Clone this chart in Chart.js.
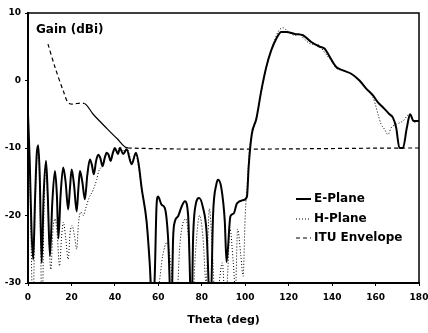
<!DOCTYPE html>
<html>
<head>
<meta charset="utf-8">
<script src="https://cdn.jsdelivr.net/npm/chart.js@4.4.1/dist/chart.umd.min.js"></script>
<style>
  html, body { margin: 0; padding: 0; background: #fff; }
  #wrap { width: 428px; height: 333px; }
</style>
</head>
<body>
<div id="wrap"><canvas id="gainChart" width="428" height="333"></canvas></div>
<script>
// E-Plane (solid)
const eTheta = [0, 0.8, 1.6, 2.4, 3.2, 4.0, 4.7, 5.4, 6.3, 7.2, 8.3, 9.1, 10.1, 11.2, 12.4, 13.3, 14.0, 15.0, 16.2, 17.3,
  18.5, 19.3, 20.1, 21.2, 22.4, 23.2, 23.9, 25.0, 26.2, 27.3, 28.5, 29.4, 30.3, 31.3, 32.3, 33.3, 34.3, 35.3, 36.2, 37.1,
  38.0, 39.0, 40.0, 41.4, 42.3, 43.8, 45.4, 47.7, 49.7, 51.0, 52.3, 54.6, 56.0, 57.5, 58.4, 59.2, 59.9, 61.5, 63.0, 64.5,
  66.0, 66.8, 67.6, 69.1, 70.7, 72.2, 73.7, 75.3, 76.0, 77.2, 78.8, 80.6, 82.2, 84.0, 85.2, 86.7, 87.5, 89.0, 90.6, 91.4,
  93.2, 94.7, 96.2, 99.3, 100.8, 101.6, 103.0, 105.1, 107.4, 109.7, 112.0, 114.3, 116.6, 118.9, 122.8, 126.6, 130.4, 134.3,
  136.6, 138.9, 141.9, 145.0, 148.8, 152.6, 155.7, 158.8, 161.0, 164.1, 166.4, 168.0, 169.5, 171.0, 172.6, 174.4, 175.9,
  177.5, 180];
const eGain = [-5, -12, -22, -26.5, -18, -11, -9.6, -14, -27, -17, -11.9, -17, -26, -18, -13.4, -17, -23.4, -17, -12.9, -15,
  -19.1, -16, -13.2, -15.5, -19.4, -16, -13.4, -15, -17.6, -14, -11.7, -12.5, -13.9, -12, -11, -11.5, -12.7, -11.5, -10.7, -11,
  -11.9, -10.8, -10, -10.9, -10, -10.9, -10.2, -12.4, -10.7, -12.5, -15.9, -20.9, -26.9, -35, -28.4, -18.4, -17.2, -18.4, -18.9, -23.4,
  -35, -23.4, -20.9, -20.1, -18.7, -17.9, -19.9, -35, -23.4, -18.4, -17.4, -18.9, -22.4, -35, -19.9, -15.4, -14.7, -15.9, -20.9, -26.9,
  -20.1, -19.7, -18.2, -17.7, -17.2, -12.7, -8, -5.7, -1.5, 2, 4.5, 6.2, 7.2, 7.2, 6.9, 6.7, 5.7, 5,
  4.7, 3.5, 2, 1.5, 1, 0, -1.2, -2.2, -3.2, -4.2, -5, -5.5, -7, -10, -10, -7, -5,
  -6, -6];

// H-Plane (dotted)
const hTheta = [0, 0.8, 1.5, 2.2, 3.2, 4.0, 4.7, 5.5, 6.5, 7.4, 8.3, 9.3, 10.5, 11.5, 12.5, 13.5, 14.5, 15.5, 16.3, 17.4,
  18.5, 19.4, 20.3, 21.4, 22.4, 23.3, 24.3, 25.5, 26.5, 28.0, 30.0, 31.6, 32.5, 34.3, 35.3, 36.2, 37.1, 38.0, 39.0, 40.0,
  41.4, 42.3, 43.8, 45.4, 47.7, 49.7, 51.0, 52.3, 54.6, 56.0, 57.0, 60.0, 62.0, 64.0, 66.0, 68.0, 70.0, 72.7, 74.0, 75.5,
  77.0, 79.0, 80.5, 82.0, 83.5, 85.0, 86.5, 88.0, 89.5, 91.0, 92.0, 93.0, 94.5, 95.5, 96.5, 98.0, 99.0, 100.0, 101.0, 102.0,
  103.5, 105.5, 107.5, 110.0, 112.5, 114.5, 116.0, 117.5, 119.5, 122.8, 125.0, 127.0, 130.4, 134.3, 136.0, 138.9, 142.0, 145.0,
  148.8, 152.6, 155.7, 158.8, 162.6, 164.1, 165.7, 167.2, 169.5, 172.6, 175.6, 178.0, 180];
const hGain = [-5, -14, -25, -35, -20, -12, -10, -18, -35, -18, -12.5, -20, -28, -22, -20.5, -23, -27.5, -23, -21, -23.5,
  -26.5, -22.5, -21.5, -23, -25, -21, -19.5, -20, -19, -17.5, -16.2, -14.7, -13.5, -12.5, -11.5, -11, -11.3, -12, -11, -10.3,
  -10.5, -9.8, -10.5, -9.8, -12, -11, -13, -16, -21, -27, -35, -31, -26, -24, -28, -35, -24, -20.5, -24, -35,
  -26, -20, -23, -30, -19, -26, -35, -30, -27, -35, -28, -22, -27, -31, -22, -26, -29, -20, -15, -10,
  -7.5, -5, -1.5, 2.3, 5, 6.8, 7.6, 7.8, 7.3, 6.7, 6.9, 6.2, 5.4, 5.2, 4.4, 3.2, 1.8, 1.5,
  1, 0, -1.3, -2.5, -6.5, -7.2, -8, -7, -6.5, -6, -5, -6.2, -6];

// ITU Envelope (dashed)
const ituTheta = [9.2, 12.4, 16.2, 19, 26, 30, 36, 41, 46, 180];
const ituGain = [5.4, 2, -1.5, -3.4, -3.4, -5, -7, -8.6, -10, -10];

const xTicks = [0, 20, 40, 60, 80, 100, 120, 140, 160, 180];
const yTicks = [-30, -20, -10, 0, 10];

const FONT = "'DejaVu Sans', sans-serif";

function pts(xs, ys) {
  return xs.map((x, i) => ({ x: x, y: ys[i] }));
}

// frame round the plot + "Gain (dBi)" + legend
const extras = {
  id: 'extras',
  afterDatasetsDraw(chart) {
    const ctx = chart.ctx;
    const a = chart.chartArea;
    ctx.save();
    ctx.strokeStyle = '#000';
    ctx.lineWidth = 1.5;
    ctx.setLineDash([]);
    ctx.strokeRect(a.left, a.top, a.right - a.left, a.bottom - a.top);

    ctx.fillStyle = '#000';
    ctx.font = 'bold 12px ' + FONT;
    ctx.textBaseline = 'middle';
    ctx.fillText('Gain (dBi)', 36, 30);

    const rows = [
      { ds: chart.data.datasets[0], y: 199 },
      { ds: chart.data.datasets[1], y: 219 },
      { ds: chart.data.datasets[2], y: 238 }
    ];
    rows.forEach(r => {
      ctx.beginPath();
      ctx.lineWidth = r.ds.borderWidth;
      ctx.setLineDash(r.ds.borderDash || []);
      ctx.moveTo(296, r.y);
      ctx.lineTo(311, r.y);
      ctx.stroke();
      ctx.setLineDash([]);
      ctx.fillText(r.ds.label, 314, r.y);
    });
    ctx.restore();
  }
};

new Chart(document.getElementById('gainChart'), {
  type: 'line',
  data: {
    datasets: [
      {
        label: 'E-Plane',
        data: pts(eTheta, eGain),
        borderColor: '#000',
        borderWidth: 2,
        pointRadius: 0,
        cubicInterpolationMode: 'monotone'
      },
      {
        label: 'H-Plane',
        data: pts(hTheta, hGain),
        borderColor: '#000',
        borderWidth: 1,
        borderDash: [1, 2],
        pointRadius: 0,
        cubicInterpolationMode: 'monotone'
      },
      {
        label: 'ITU Envelope',
        data: pts(ituTheta, ituGain),
        borderColor: '#000',
        borderWidth: 1.2,
        borderDash: [4, 3],
        pointRadius: 0,
        tension: 0.3,
        segment: {
          borderDash: c => (c.p0.parsed.x >= 26 && c.p1.parsed.x <= 46) ? [] : [4, 3]
        }
      }
    ]
  },
  options: {
    responsive: false,
    animation: false,
    layout: { padding: { top: 13, right: 0, left: 0, bottom: 0 } },
    plugins: {
      legend: { display: false },
      tooltip: { enabled: false }
    },
    scales: {
      x: {
        type: 'linear',
        min: 0,
        max: 180,
        afterBuildTicks: s => { s.ticks = xTicks.map(v => ({ value: v })); },
        afterFit: s => { s.height = 50; s.paddingRight = 9; s.paddingLeft = 0; },
        border: { display: true, color: '#000', width: 2 },
        grid: { drawOnChartArea: false, color: '#000', tickLength: 3 },
        ticks: { color: '#000', padding: 6, maxRotation: 0, font: { family: FONT, size: 9, weight: 'bold' } },
        title: {
          display: true,
          text: 'Theta (deg)',
          color: '#000',
          padding: { top: 0, bottom: 6 },
          font: { family: FONT, size: 11, weight: 'bold' }
        }
      },
      y: {
        min: -30,
        max: 10,
        afterBuildTicks: s => { s.ticks = yTicks.map(v => ({ value: v })); },
        afterFit: s => { s.width = 28; },
        border: { display: true, color: '#000', width: 2 },
        grid: { drawOnChartArea: false, color: '#000', tickLength: 3 },
        ticks: { color: '#000', padding: 4, font: { family: FONT, size: 9, weight: 'bold' } }
      }
    }
  },
  plugins: [extras]
});
</script>
</body>
</html>
